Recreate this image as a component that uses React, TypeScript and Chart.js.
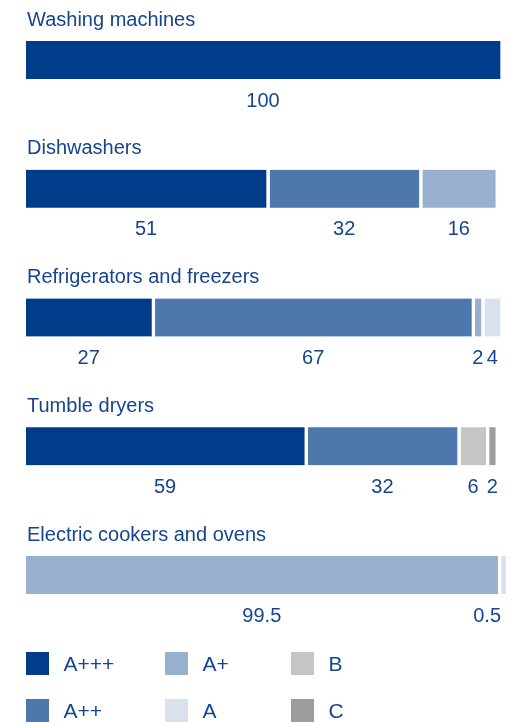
import React, { useEffect, useRef } from "react";
import { Chart, registerables } from "chart.js";

Chart.register(...registerables);

// ---- data ----
const CATEGORIES = [
  "Washing machines",
  "Dishwashers",
  "Refrigerators and freezers",
  "Tumble dryers",
  "Electric cookers and ovens",
];
const CLASSES = ["A+++", "A++", "A+", "A", "B", "C"];
const A_PPP = [100, 51, 27, 59, null];
const A_PP = [null, 32, 67, 32, null];
const A_P = [null, 16, 2, null, 99.5];
const A_ = [null, null, 4, null, 0.5];
const B_ = [null, null, null, 6, null];
const C_ = [null, null, null, 2, null];
const SERIES = [A_PPP, A_PP, A_P, A_, B_, C_];

// ---- styles ----
const COLORS = ["#003c8a", "#4e77ae", "#98b0d0", "#dae1ee", "#c4c5c5", "#9c9d9d"];
const TEXT = "#16448e";
const FONT = '"Liberation Sans", Arial, sans-serif';
const GAP = 3.5;

const textPlugin = {
  id: "texts",
  afterDraw(chart: any) {
    const ctx = chart.ctx;
    const yScale = chart.scales.y;
    const area = chart.chartArea;
    ctx.save();
    ctx.fillStyle = TEXT;
    ctx.textBaseline = "alphabetic";
    ctx.font = `20px ${FONT}`;
    CATEGORIES.forEach((cat, i) => {
      const yc = yScale.getPixelForValue(i);
      ctx.textAlign = "left";
      ctx.fillText(cat, 27, yc - 34.5);
      chart.data.datasets.forEach((ds: any, d: number) => {
        const v = ds.data[i];
        if (v == null) return;
        const el = chart.getDatasetMeta(d).data[i];
        const { x, base } = el.getProps(["x", "base"], true);
        const cx = (base + x - GAP) / 2;
        const txt = String(v);
        const w = ctx.measureText(txt).width;
        const px = Math.min(cx, area.right - GAP + 1 - w / 2);
        ctx.textAlign = "center";
        ctx.fillText(txt, px, yc + 46.5);
      });
    });
    // legend (column-major: 2 rows x 3 columns)
    const colX = [26, 165, 291];
    const rowY = [652, 699];
    const box = 23;
    ctx.font = `21px ${FONT}`;
    ctx.textAlign = "left";
    chart.data.datasets.forEach((ds: any, d: number) => {
      const col = Math.floor(d / 2);
      const row = d % 2;
      const bx = colX[col];
      const by = rowY[row];
      ctx.fillStyle = ds.backgroundColor;
      ctx.fillRect(bx, by, box, box);
      ctx.fillStyle = TEXT;
      ctx.fillText(ds.label, bx + 37.5, by + box / 2 + 7.8);
    });
    ctx.restore();
  },
};

export default function App() {
  const ref = useRef<HTMLCanvasElement | null>(null);
  useEffect(() => {
    if (!ref.current) return;
    const chart = new Chart(ref.current, {
      type: "bar",
      data: {
        labels: CATEGORIES,
        datasets: SERIES.map((s, i) => ({
          label: CLASSES[i],
          data: s as any,
          backgroundColor: COLORS[i],
          borderColor: "#ffffff",
          borderWidth: { top: 0, bottom: 0, left: 0, right: GAP },
          borderSkipped: false,
          barThickness: 38,
          minBarLength: i === 3 ? 8 : 0,
          clip: false,
        })),
      },
      options: {
        indexAxis: "y",
        responsive: true,
        maintainAspectRatio: false,
        animation: false,
        layout: { padding: { top: 60, bottom: 147, left: 26, right: 531 - 500 - GAP } },
        scales: {
          x: { type: "linear", stacked: true, min: 0, max: 100, display: false },
          y: { type: "category", stacked: true, offset: false, display: false, grid: { offset: false } },
        },
        plugins: { legend: { display: false }, tooltip: { enabled: false } },
      } as any,
      plugins: [textPlugin],
    });
    return () => chart.destroy();
  }, []);
  return (
    <div style={{ position: "absolute", left: 0, top: 0, width: 531, height: 722 }}>
      <canvas ref={ref} />
    </div>
  );
}
